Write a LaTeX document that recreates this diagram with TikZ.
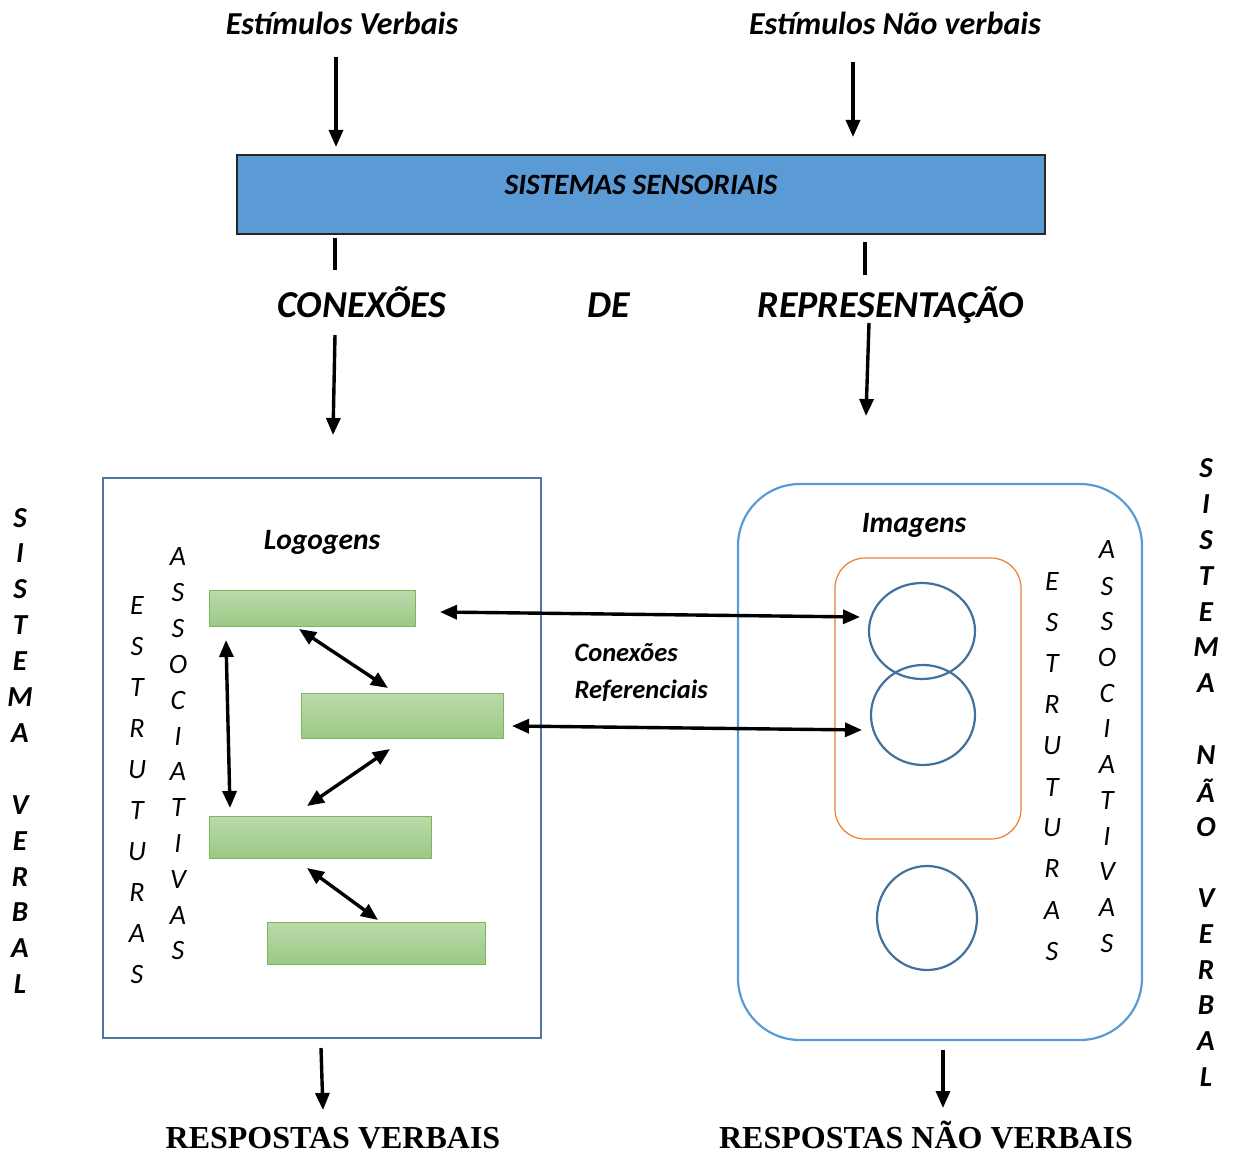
\documentclass[tikz,border=0pt]{standalone}
\usepackage{fontspec}
\setmainfont{Carlito}
\newfontfamily\timesbf{Liberation Serif}
\usetikzlibrary{arrows.meta}
\definecolor{boxblue}{HTML}{5B9BD5}
\definecolor{darkblue}{HTML}{41719C}
\definecolor{steel}{HTML}{4F76A6}
\definecolor{orng}{HTML}{ED7D31}
\definecolor{gtop}{HTML}{BADAAB}
\definecolor{gbot}{HTML}{9BC985}
\definecolor{gborder}{HTML}{7DB75C}
\tikzset{
  arr/.style={line width=3.4pt,-{Triangle[length=17pt,width=14pt]}},
  darr/.style={line width=3.4pt,{Triangle[length=17pt,width=14pt]}-{Triangle[length=17pt,width=14pt]}},
  plain/.style={line width=3.4pt},
  greenbar/.style={draw=gborder,line width=1pt,top color=gtop,bottom color=gbot},
  circ/.style={draw=darkblue,line width=2.2pt},
  vlet/.style={inner sep=0pt,font=\itshape\fontsize{28}{28}\selectfont},
  vbold/.style={inner sep=0pt,font=\bfseries\itshape\fontsize{29}{29}\selectfont},
  toptxt/.style={anchor=base,font=\bfseries\itshape\fontsize{32}{32}\selectfont},
  midtxt/.style={anchor=base,font=\bfseries\itshape\fontsize{38}{38}\selectfont},
  boxtitle/.style={anchor=base,font=\bfseries\itshape\fontsize{29.5}{30}\selectfont},
  reftxt/.style={anchor=base west,font=\bfseries\itshape\fontsize{26.5}{27}\selectfont},
  resp/.style={anchor=base,font=\timesbf\bfseries\fontsize{32}{32}\selectfont},
}
\begin{document}
\begin{tikzpicture}[x=1pt,y=-1pt]
\useasboundingbox (0,0) rectangle (1235,1153);
% top texts
\node[toptxt] (ev) at (342,35) {Estímulos Verbais};
\node[toptxt] (env) at (895,35) {Estímulos Não verbais};
% sensory box
\node[draw=black!85,line width=2.4pt,fill=boxblue,minimum width=808pt,minimum height=79pt,inner sep=0pt] (ss) at (641,194.5) {};
\node[anchor=base,font=\bfseries\itshape\fontsize{29.5}{30}\selectfont] (sst) at (641,194) {SISTEMAS SENSORIAIS};
\coordinate (a1s) at (336,57); \coordinate (a1e) at (336,147);
\coordinate (a2s) at (853,62); \coordinate (a2e) at (853,137);
\draw[arr] (a1s) -- (a1e);
\draw[arr] (a2s) -- (a2e);
% middle labels
\node[midtxt] (con) at (362,317) {CONEXÕES};
\node[midtxt] (de) at (609,317) {DE};
\node[midtxt] (rep) at (891,317) {REPRESENTAÇÃO};
\coordinate (l1s) at (335,238); \coordinate (l1e) at (335,270);
\coordinate (l2s) at (865,242); \coordinate (l2e) at (865,275);
\draw[plain] (l1s) -- (l1e);
\draw[plain] (l2s) -- (l2e);
\coordinate (a3s) at (335,335); \coordinate (a3e) at (333,435);
\coordinate (a4s) at (869,323); \coordinate (a4e) at (866,416);
\draw[arr] (a3s) -- (a3e);
\draw[arr] (a4s) -- (a4e);
% left box
\node[draw=steel,line width=2.2pt,minimum width=438pt,minimum height=560pt,inner sep=0pt] (lbox) at (322,758) {};
\node[boxtitle] (logo) at (322,549) {Logogens};
\node[greenbar,minimum width=206pt,minimum height=36pt,inner sep=0pt] (r1) at (312,608) {};
\node[greenbar,minimum width=202pt,minimum height=45pt,inner sep=0pt] (r2) at (402,715.5) {};
\node[greenbar,minimum width=222pt,minimum height=42pt,inner sep=0pt] (r3) at (320,837) {};
\node[greenbar,minimum width=218pt,minimum height=42pt,inner sep=0pt] (r4) at (376,943) {};
\coordinate (v1) at (226,640); \coordinate (v2) at (230,808);
\coordinate (d1a) at (299,629); \coordinate (d1b) at (388,688);
\coordinate (d2a) at (390,749); \coordinate (d2b) at (307,806);
\coordinate (d3a) at (307,868); \coordinate (d3b) at (378,920);
\draw[darr] (v1) -- (v2);
\draw[darr] (d1a) -- (d1b);
\draw[darr] (d2a) -- (d2b);
\draw[darr] (d3a) -- (d3b);
% column letters left
\foreach \l/\yy [count=\i] in {E/606,S/647,T/688,R/729,U/770,T/811,U/852,R/893,A/934,S/975}
  \node[vlet] (le\i) at (137,\yy) {\l};
\foreach \l/\yy [count=\i] in {A/557,S/593,S/629,O/665,C/701,I/737,A/772,T/808,I/844,V/880,A/916,S/951}
  \node[vlet] (la\i) at (178,\yy) {\l};
% right box
\node[draw=boxblue,line width=2.2pt,rounded corners=62pt,minimum width=404pt,minimum height=556pt,inner sep=0pt] (rbox) at (940,762) {};
\node[boxtitle] (img) at (914,532) {Imagens};
\node[draw=orng,line width=1.2pt,rounded corners=30pt,minimum width=186pt,minimum height=281pt,inner sep=0pt] (obox) at (928,698.5) {};
\draw[circ] (922,631) ellipse [x radius=53, y radius=48];
\draw[circ] (923,715) ellipse [x radius=52, y radius=50];
\draw[circ] (927,918) ellipse [x radius=50, y radius=52];
\foreach \l/\yy [count=\i] in {E/582,S/623,T/664,R/705,U/746,T/788,U/828,R/869,A/911,S/952}
  \node[vlet] (re\i) at (1052,\yy) {\l};
\foreach \l/\yy [count=\i] in {A/550,S/587,S/622,O/658,C/694,I/729,A/765,T/801,I/837,V/872,A/908,S/944}
  \node[vlet] (ra\i) at (1107,\yy) {\l};
% referential connections
\coordinate (h1a) at (440,612); \coordinate (h1b) at (860,617);
\coordinate (h2a) at (512,726); \coordinate (h2b) at (862,730);
\draw[darr] (h1a) -- (h1b);
\draw[darr] (h2a) -- (h2b);
\node[reftxt] (cr1) at (571,661) {Conexões};
\node[reftxt] (cr2) at (571,698) {Referenciais};
% side labels
\foreach \l/\yy [count=\i] in {S/518,I/553,S/589,T/625,E/661,M/697,A/733,V/805,E/841,R/877,B/912,A/948,L/984}
  \node[vbold] (sv\i) at (20,\yy) {\l};
\foreach \l/\yy [count=\i] in {S/468,I/504,S/540,T/576,E/612,M/647,A/683,N/755,Ã/791,O/827,V/898,E/934,R/970,B/1005,A/1041,L/1077}
  \node[vbold] (snv\i) at (1206,\yy) {\l};
% bottom
\coordinate (b1s) at (321,1048); \coordinate (b1m) at (322,1080); \coordinate (b1e) at (323,1110);
\coordinate (b2s) at (943,1050); \coordinate (b2e) at (943,1108);
\draw[arr] (b1s) -- (b1m) -- (b1e);
\draw[arr] (b2s) -- (b2e);
\node[resp] (rv) at (333,1148) {RESPOSTAS VERBAIS};
\node[resp] (rnv) at (926,1148) {RESPOSTAS NÃO VERBAIS};
\end{tikzpicture}
\end{document}
